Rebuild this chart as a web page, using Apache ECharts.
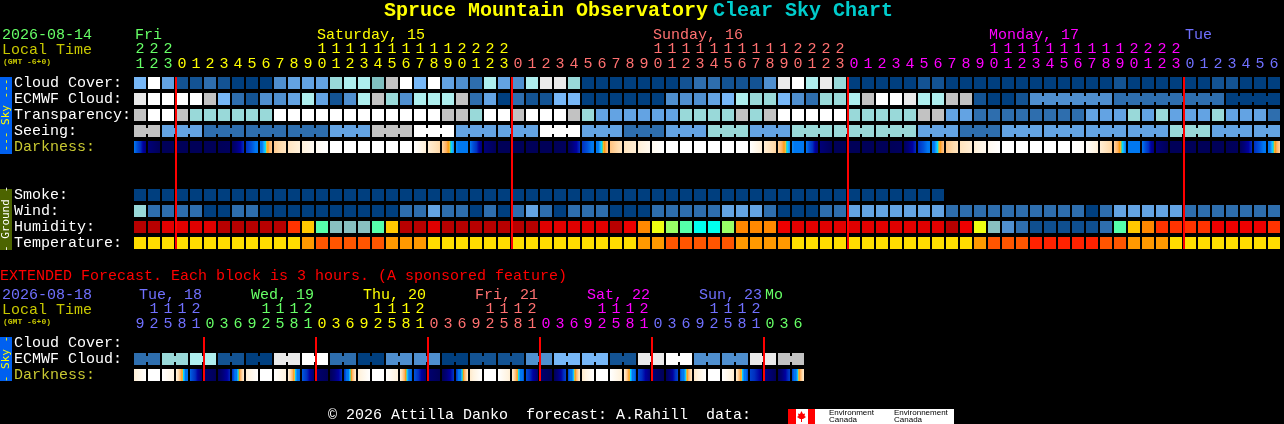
<!DOCTYPE html>
<html>
<head>
<meta charset="utf-8">
<style>html,body{margin:0;padding:0;background:#000;overflow:hidden}#c{width:1284px;height:424px}</style>
<script src="https://cdn.jsdelivr.net/npm/echarts@6/dist/echarts.min.js"></script>
</head>
<body>
<div id="c"></div>
<script>
// ---------- hours and days ----------
const mainHours = [21,22,23,0,1,2,3,4,5,6,7,8,9,10,11,12,13,14,15,16,17,18,19,20,21,22,23,
  0,1,2,3,4,5,6,7,8,9,10,11,12,13,14,15,16,17,18,19,20,21,22,23,
  0,1,2,3,4,5,6,7,8,9,10,11,12,13,14,15,16,17,18,19,20,21,22,23,
  0,1,2,3,4,5,6];
const mainDayTitles = [[0,'Fri'],[13,'Saturday, 15'],[37,'Sunday, 16'],[61,'Monday, 17'],[75,'Tue']];
const mainDayColors = ['#66ff66','#ffff00','#ff7070','#ff00ff','#7070ff'];
const mainMidnights = [3,27,51,75];
const extHours = [9,12,15,18,21,0,3,6,9,12,15,18,21,0,3,6,9,12,15,18,21,0,3,6,9,12,15,18,21,0,3,6,
  9,12,15,18,21,0,3,6,9,12,15,18,21,0,3,6];
const extDayTitles = [[0,'Tue, 18'],[8,'Wed, 19'],[16,'Thu, 20'],[24,'Fri, 21'],[32,'Sat, 22'],[40,'Sun, 23'],[45,'Mo']];
const extDayColors = ['#7070ff','#66ff66','#ffff00','#ff7070','#ff00ff','#7070ff','#66ff66'];
const extMidnights = [5,13,21,29,37,45];

// ---------- row names ----------
const mainRows = ['Cloud Cover:','ECMWF Cloud:','Transparency:','Seeing:','Darkness:','','','Smoke:','Wind:','Humidity:','Temperature:'];
const extRows = ['Cloud Cover:','ECMWF Cloud:','Darkness:'];

// ---------- series values (palette levels) ----------
const cloudCover = [5,10,4,1,1,2,1,0,0,0,3,4,4,4,7,6,6,11,8,10,5,10,4,3,2,6,4,3,6,9,9,7,
  0,0,0,0,0,0,0,1,2,2,1,1,1,3,9,10,6,9,7,0,0,0,0,0,1,1,0,0,0,0,0,0,0,0,0,0,0,0,1,0,0,0,0,0,0,1,1,0,0,0];
const ecmwfCloud = [9,10,10,10,10,8,5,2,1,3,3,4,6,4,1,3,6,8,7,3,6,6,6,8,2,4,0,2,1,1,5,5,
  0,0,0,0,0,0,3,3,3,4,5,6,7,7,5,3,2,7,7,6,8,10,10,9,6,6,8,8,1,0,0,1,
  3,3,3,3,3,3,2,2,2,2,2,2,2,2,0,0,0,0];
const transparency = [8,10,10,8,7,7,7,7,7,7,10,10,10,10,10,10,10,10,10,10,10,10,8,8,7,10,10,8,10,10,10,8,
  7,4,4,4,4,4,4,7,7,7,7,8,7,8,10,10,10,10,10,7,7,7,7,7,8,8,4,4,2,2,2,2,2,2,2,2,4,4,4,7,4,7,4,4,4,7,4,4,4,2];
const seeing = [8,8,4,4,4,2,2,2,2,2,2,2,2,2,4,4,4,8,8,8,10,10,10,4,4,4,4,4,4,10,10,10,
  4,4,4,2,2,2,4,4,4,7,7,7,4,4,4,7,7,7,7,7,7,7,7,7,4,4,4,2,2,2,4,4,4,4,4,4,4,4,4,4,4,4,7,7,7,4,4,4,4,4];
const darknessEdges = [5.6,8,8.7,8.7,8.7,8.7,8.7,8.6,6.9,5.3,2.4,1.6,1.1,0.4,0,0,0,0,0,0,0,1.2,2.1,4.6,
  5.6,8,8.7,8.7,8.7,8.7,8.7,8.6,6.9,5.3,2.6,1.7,1.2,0.5,0,0,0,0,0,0,0,1.2,2.2,4.6,
  5.6,8,8.7,8.7,8.7,8.7,8.7,8.6,6.9,5.3,2.5,1.7,1.2,0.5,0,0,0,0,0,0,0.2,1.2,2.2,4.8,
  5.6,8,8.7,8.7,8.7,8.7,8.7,8.6,6.9,5.3,2.2];
const smoke = [0,0,0,0,0,0,0,0,0,0,0,0,0,0,0,0,0,0,0,0,0,0,0,0,0,0,0,0,0,0,0,0,0,0,0,0,0,0,0,0,0,0,0,0,0,0,0,0,0,0,0,0,0,0,0,0,0,0];
const wind = [7,2,2,2,2,0,0,2,2,0,0,0,0,0,0,0,0,0,0,2,2,4,2,2,0,2,0,2,4,2,0,2,2,2,0,0,0,2,2,2,2,2,4,4,4,2,0,0,0,2,2,4,
  4,4,4,4,4,4,2,2,2,2,2,2,2,2,2,2,0,2,4,4,4,4,4,2,2,2,2,2,2,2];
const humidity = [0,0,1,1,1,1,0,0,0,0,0,3,5,8,10,10,10,8,5,0,0,1,0,0,0,0,0,0,0,1,1,1,1,1,0,2,4,6,7,8,9,9,7,4,4,4,2,1,1,1,1,1,
  1,1,1,1,1,1,0,2,6,10,11,12,13,13,13,13,13,12,8,5,4,3,3,3,3,2,2,2,2,3];
const temperature = [0,0,0,0,0,0,0,0,0,0,0,0,1,2,2,2,2,2,1,1,1,0,0,0,0,0,0,0,0,0,0,0,0,0,0,0,1,1,2,2,2,2,2,1,1,1,1,0,0,0,0,0,
  0,0,0,0,0,0,0,0,1,2,2,2,3,3,3,3,3,2,2,1,1,1,0,0,0,0,0,0,0,0];

const extEcmwf = [2,2,7,7,6,6,1,1,0,0,9,9,10,10,2,2,0,0,3,3,3,3,0,0,1,1,1,1,3,3,5,5,5,5,1,1,9,9,10,10,3,3,3,3,9,9,8,8];
const extDarknessEdges = [1.2,0,0,0.9,5.9,8.2,8.7,7,1.2,0,0,1,6,8.2,8.7,6.9,1.2,0,0,1.1,6.1,8.2,8.7,6.8,1.4,0,0,1.2,6.3,8.2,8.7,6.5,
  1.4,0,0,1.2,6.4,8,8.7,6.4,1.5,0,0,1.3,6.5,7.6,8.7,6.6,1.3];

// ---------- palettes ----------
const skyPalette = ['#003f7f','#135393','#2e6eae','#4f8fcf','#63a3e3','#77b7f7','#aeeeee','#99d9d9','#c2c2c2','#eaeaea','#ffffff','#80c0c0'];
const humidityPalette = ['#b80000','#e00000','#ee0000','#ff3300','#ff8800','#ffc800','#eeff11','#99ff66','#55ffaa','#00ffee','#88c0c0','#5090d0','#2e6eae','#0f4f8f'];
const temperaturePalette = ['#ffdd00','#ff9900','#ff5500','#ff2200'];
const darknessScale = [[0,'#ffffff'],[1,'#fff3df'],[2,'#ffdcae'],[3,'#ffb060'],[3.4,'#ff9a10'],[3.7,'#e8c040'],[3.85,'#50d090'],[4,'#00e0ff'],
  [4.4,'#20a0ff'],[4.8,'#0078f0'],[5.6,'#0078f0'],[6.2,'#0050d8'],[6.9,'#0030c0'],[7.4,'#0000a0'],[8,'#000078'],[8.7,'#000058']];

const MONO = '"Liberation Mono"';
const chart = echarts.init(document.getElementById('c'), null, {renderer:'canvas'});

function hex(c){return [parseInt(c.slice(1,3),16),parseInt(c.slice(3,5),16),parseInt(c.slice(5,7),16)];}
function levelColor(v){
  const s=darknessScale;
  if(v<=s[0][0])return s[0][1];
  for(let i=1;i<s.length;i++){
    if(v<=s[i][0]){
      const t=(v-s[i-1][0])/(s[i][0]-s[i-1][0]),a=hex(s[i-1][1]),b=hex(s[i][1]);
      return 'rgb('+a.map((x,k)=>Math.round(x+(b[k]-x)*t)).join(',')+')';
    }
  }
  return s[s.length-1][1];
}
function darkFill(a,b){
  if(a===b)return levelColor(a);
  const stops=[{offset:0,color:levelColor(a)}];
  const lo=Math.min(a,b),hi=Math.max(a,b);
  const pts=darknessScale.map(p=>p[0]).filter(p=>p>lo&&p<hi);
  pts.forEach(p=>stops.push({offset:(p-a)/(b-a),color:levelColor(p)}));
  stops.push({offset:1,color:levelColor(b)});
  stops.sort((x,y)=>x.offset-y.offset);
  return new echarts.graphic.LinearGradient(0,0,1,0,stops);
}
function cell(api,fill,neck){
  const c=api.coord([api.value(0),api.value(1)]),s=api.size([1,1]);
  const x=c[0]-s[0]/2+1,y=c[1]-s[1]/2+2,w=s[0]-2,h=s[1]-4;
  const kids=[{type:'rect',shape:{x,y,width:w,height:h},style:{fill}}];
  if(neck)kids.push({type:'rect',shape:{x:x+w,y:y+3,width:2,height:h-6},style:{fill}});
  return {type:'group',children:kids};
}
function rowSeries(grid,row,values,palette,linked){
  return {type:'custom',xAxisIndex:grid,yAxisIndex:grid,z:2,silent:true,
    data:values.map((v,i)=>[i,row,v]),
    renderItem:(p,api)=>{const i=api.value(0);
      return cell(api,palette[api.value(2)],linked?linked(i,values):false);}};
}
function darkSeries(grid,row,edges){
  return {type:'custom',xAxisIndex:grid,yAxisIndex:grid,z:2,silent:true,
    data:edges.slice(0,-1).map((v,i)=>[i,row,v]),
    renderItem:(p,api)=>{const i=api.value(0);return cell(api,darkFill(edges[i],edges[i+1]),false);}};
}
function midnightSeries(grid,cols,rowCount){
  return {type:'custom',xAxisIndex:grid,yAxisIndex:grid,z:5,silent:true,
    data:cols.map(c=>[c,0]),
    renderItem:(p,api)=>{
      const c=api.coord([api.value(0),0]),e=api.coord([api.value(0),rowCount-1]),s=api.size([1,1]);
      const x=c[0]-s[0]/2,y=c[1]-s[1]/2+2;
      return {type:'rect',shape:{x,y,width:2,height:e[1]+s[1]/2-2-y},style:{fill:'#ff0000'}};
    }};
}
function dayTitleSeries(grid,titles,colors,dyTop,dxFn){
  return {type:'custom',xAxisIndex:grid,yAxisIndex:grid,z:3,silent:true,
    data:titles.map((t,i)=>[t[0],0,i]),
    renderItem:(p,api)=>{
      const i=api.value(2),c=api.coord([api.value(0),0]),s=api.size([1,1]);
      return {type:'text',x:c[0]+dxFn(titles[i][1]),y:c[1]-s[1]/2-dyTop,
        style:{text:titles[i][1],fill:colors[i],font:'15px '+MONO,textVerticalAlign:'middle'}};
    }};
}
const hourLabel=h=>(h>=10?String(Math.floor(h/10)):'')+'\n'+(h%10);
function xAxis(grid,hours,colorFn){
  return {type:'category',gridIndex:grid,position:'top',data:hours.map(hourLabel),
    axisLine:{show:false},axisTick:{show:false},splitLine:{show:false},
    axisLabel:{interval:0,margin:3,color:(v,i)=>colorFn(i),fontFamily:MONO,fontSize:15,lineHeight:15,hideOverlap:false}};
}
function yAxis(grid,rows){
  return {type:'category',gridIndex:grid,inverse:true,data:rows,
    axisLine:{show:false},axisTick:{show:false},splitLine:{show:false},
    axisLabel:{interval:0,margin:119,align:'left',fontFamily:MONO,fontSize:15,
      color:v=>v==='Darkness:'?'#c8c832':'#ffffff'}};
}
function mainDayIndex(i){let d=0;for(const m of mainMidnights)if(i>=m)d++;return d;}
function extDayIndex(i){let d=0;for(const m of extMidnights)if(i>=m)d++;return d;}
const seeingLinked=(i,v)=>i===0||(i>=2&&i<81&&(i-2)%3!==2);
const ecmwfLinked=(i,v)=>i>=64&&i<81&&v[i]===v[i+1];
const extLinked=(i,v)=>i%2===0;

function txt(x,y,text,fill,font,extra){
  return Object.assign({type:'text',x,y,silent:true,style:{text,fill,font,textVerticalAlign:'middle'}},extra||{});
}
function vtxt(x,y,text,fill){
  return {type:'text',x,y,rotation:Math.PI/2,silent:true,z:3,
    style:{text,fill,font:'11px "DejaVu Sans Mono"',textAlign:'center',textVerticalAlign:'middle'}};
}
function box(x,y,w,h,fill){return {type:'rect',shape:{x,y,width:w,height:h},style:{fill},silent:true};}

chart.setOption({
  animation:false,
  backgroundColor:'#000',
  title:{left:384,top:1,padding:0,
    text:'{a|Spruce Mountain Observatory} {b|Clear Sky Chart}',
    textStyle:{rich:{a:{color:'#ffff00',fontFamily:MONO,fontWeight:'bold',fontSize:20},
                     b:{color:'#00cccc',fontFamily:MONO,fontWeight:'bold',fontSize:20}}}},
  grid:[{left:133,top:75,width:1148,height:176,containLabel:false},
        {left:133,top:335,width:672,height:48,containLabel:false}],
  xAxis:[xAxis(0,mainHours,i=>mainDayColors[mainDayIndex(i)]),xAxis(1,extHours,i=>extDayColors[extDayIndex(i)])],
  yAxis:[yAxis(0,mainRows),yAxis(1,extRows)],
  series:[
    rowSeries(0,0,cloudCover,skyPalette),
    rowSeries(0,1,ecmwfCloud,skyPalette,ecmwfLinked),
    rowSeries(0,2,transparency,skyPalette),
    rowSeries(0,3,seeing,skyPalette,seeingLinked),
    darkSeries(0,4,darknessEdges),
    rowSeries(0,7,smoke,skyPalette),
    rowSeries(0,8,wind,skyPalette),
    rowSeries(0,9,humidity,humidityPalette),
    rowSeries(0,10,temperature,temperaturePalette),
    midnightSeries(0,mainMidnights,11),
    dayTitleSeries(0,mainDayTitles,mainDayColors,40,t=>-5),
    rowSeries(1,1,extEcmwf,skyPalette,extLinked),
    darkSeries(1,2,extDarknessEdges),
    midnightSeries(1,extMidnights,3),
    dayTitleSeries(1,extDayTitles,extDayColors,40,t=>t==='Mo'?-5:-1)
  ],
  graphic:[
    txt(2,35,'2026-08-14','#66ff66','15px '+MONO),
    txt(2,50,'Local Time','#c8c800','15px '+MONO),
    txt(3,62,'(GMT -6+0)','#c8c800','bold 8px '+MONO),
    txt(0,276,'EXTENDED Forecast. Each block is 3 hours. (A sponsored feature)','#ff0000','15px '+MONO),
    txt(2,295,'2026-08-18','#7070ff','15px '+MONO),
    txt(2,310,'Local Time','#c8c800','15px '+MONO),
    txt(3,322,'(GMT -6+0)','#c8c800','bold 8px '+MONO),
    box(0,77,12,77,'#0060f0'),
    vtxt(6,115,'--- Sky ---','#ffff00'),
    box(0,189,12,61,'#4c6400'),
    vtxt(6,219,'- Ground -','#ffffff'),
    box(0,337,12,44,'#0060f0'),
    vtxt(6,359,'- Sky -','#ffff00'),
    txt(328,415,'\u00a9 2026 Attilla Danko  forecast: A.Rahill  data:','#ffffff','15px '+MONO),
    box(788,409,166,15,'#ffffff'),
    box(788,409,8,15,'#ff0000'),
    box(808,409,7,15,'#ff0000'),
    {type:'polygon',silent:true,shape:{points:[[801.5,411],[803,414],[805,413.5],[804.5,416],[806,417],[803,419],[802,419],[802,422],[801,422],[801,419],[800,419],[797,417],[798.5,416],[798,413.5],[800,414]]},style:{fill:'#ff0000'}},
    txt(829,413,'Environment','#000000','8px "Liberation Sans"'),
    txt(829,420,'Canada','#000000','8px "Liberation Sans"'),
    txt(894,413,'Environnement','#000000','8px "Liberation Sans"'),
    txt(894,420,'Canada','#000000','8px "Liberation Sans"')
  ]
});
</script>
</body>
</html>
